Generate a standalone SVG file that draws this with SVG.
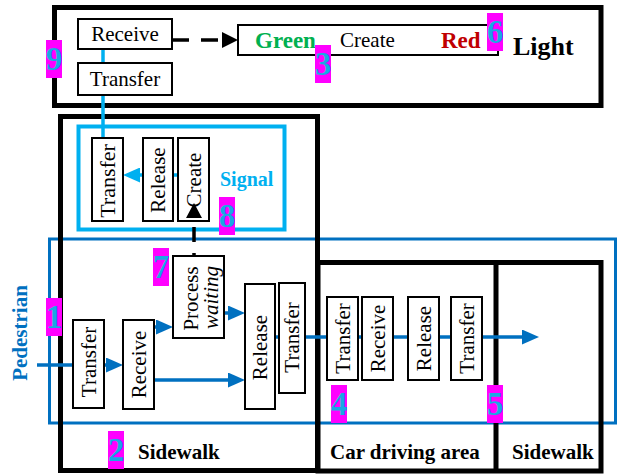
<svg xmlns="http://www.w3.org/2000/svg" width="621" height="474" viewBox="0 0 621 474">
<style>
.area{fill:none;stroke:#000;stroke-width:5}
.box{fill:#fff;stroke:#000;stroke-width:2}
text{font-family:'Liberation Serif','Times New Roman',serif}
.t{font-size:21px;fill:#000}
.b{font-weight:bold;font-size:21px;fill:#000}
.num rect{fill:#FF00FF}
.num text{font-weight:bold;font-size:33px;fill:#1AA7E3;text-anchor:middle}
.pf{fill:none;stroke:#0070C0;stroke-width:3.5}
.sf{fill:none;stroke:#00B0F0;stroke-width:3.5}
</style>
<defs>
<marker id="ab" markerUnits="userSpaceOnUse" markerWidth="17" markerHeight="15" refX="9" refY="7.5" orient="auto"><path d="M0,0 L17,7.5 L0,15 z" fill="#0070C0"/></marker>
<marker id="as" markerUnits="userSpaceOnUse" markerWidth="17" markerHeight="15" refX="9" refY="7.5" orient="auto"><path d="M0,0 L17,7.5 L0,15 z" fill="#00B0F0"/></marker>
<marker id="ak" markerUnits="userSpaceOnUse" markerWidth="16" markerHeight="16" refX="8" refY="8" orient="auto"><path d="M0,0 L16,8 L0,16 z" fill="#000"/></marker>
</defs>
<rect width="621" height="474" fill="#fff"/>

<g id="pedestrian-area">
<rect x="49.5" y="239" width="566" height="184" fill="none" stroke="#0070C0" stroke-width="3"/>
<text class="b" transform="translate(20,333) rotate(-90)" x="0" y="7" text-anchor="middle" style="fill:#0070C0">Pedestrian</text>
</g>
<g id="light-area">
<rect class="area" x="54.5" y="7.5" width="546.5" height="98"/>
<text class="b" x="513" y="55" style="font-size:26px">Light</text>
</g>
<g id="sidewalk-left">
<rect class="area" x="60.5" y="116.5" width="257" height="354"/>
<text class="b" x="138" y="459">Sidewalk</text>
</g>
<g id="car-area">
<rect class="area" x="318" y="262.5" width="283" height="208.5"/>
<line x1="496" y1="262.5" x2="496" y2="471" stroke="#000" stroke-width="5"/>
<text class="b" x="330" y="459">Car driving area</text>
<text class="b" x="512" y="459">Sidewalk</text>
</g>
<g id="signal-area">
<rect x="78.5" y="126.5" width="206" height="103" fill="none" stroke="#00B0F0" stroke-width="4"/>
<text class="b" x="220" y="186" style="fill:#00B0F0;font-size:20px">Signal</text>
</g>

<g id="connectors">
<line class="sf" x1="103" y1="49" x2="103" y2="138"/>
<line class="sf" x1="178" y1="175" x2="131" y2="175" marker-end="url(#as)"/>
<line x1="172" y1="40" x2="230" y2="40" stroke="#000" stroke-width="3.5" stroke-dasharray="17 12" marker-end="url(#ak)"/>
<line x1="194" y1="268" x2="194" y2="211" stroke="#000" stroke-width="3.5" stroke-dasharray="15 11" marker-end="url(#ak)"/>
<line class="pf" x1="37" y1="365" x2="115" y2="365" marker-end="url(#ab)"/>
<line class="pf" x1="154" y1="327" x2="165" y2="327" marker-end="url(#ab)"/>
<line class="pf" x1="154" y1="380" x2="237" y2="380" marker-end="url(#ab)"/>
<line class="pf" x1="224" y1="313" x2="237" y2="313" marker-end="url(#ab)"/>
<line class="pf" x1="270" y1="337" x2="531" y2="337" marker-end="url(#ab)"/>
</g>

<g id="light-receive"><rect class="box" x="78" y="19" width="94" height="30"/><text class="t" x="125" y="41" text-anchor="middle">Receive</text></g>
<g id="light-transfer"><rect class="box" x="78" y="63" width="94" height="32"/><text class="t" x="125" y="86" text-anchor="middle">Transfer</text></g>
<g id="light-create"><rect class="box" x="238" y="25" width="260" height="30"/>
<text class="b" x="255" y="48" style="fill:#00B050;font-size:23px">Green</text>
<text class="t" x="340" y="47">Create</text>
<text class="b" x="441" y="48" style="fill:#C00000;font-size:23px">Red</text></g>

<g id="signal-transfer"><rect class="box" x="92" y="138" width="31" height="83"/><text class="t" transform="translate(107.5,181) rotate(-90)" y="7" text-anchor="middle" style="font-size:22px">Transfer</text></g>
<g id="signal-release"><rect class="box" x="143" y="138" width="30" height="83"/><text class="t" transform="translate(158,180) rotate(-90)" y="7" text-anchor="middle">Release</text></g>
<g id="signal-create"><rect class="box" x="178" y="138" width="31" height="83"/><text class="t" transform="translate(193.5,180) rotate(-90)" y="7" text-anchor="middle">Create</text>
<path d="M194,203 L186,218 L202,218 z" fill="#000"/></g>

<g id="ped-transfer"><rect class="box" x="73" y="320" width="31" height="88"/><text class="t" transform="translate(88.5,362) rotate(-90)" y="7" text-anchor="middle">Transfer</text></g>
<g id="ped-receive"><rect class="box" x="123" y="320" width="31" height="89"/><text class="t" transform="translate(138.5,364.5) rotate(-90)" y="7" text-anchor="middle">Receive</text></g>
<g id="ped-process"><rect class="box" x="173" y="256" width="51" height="82"/>
<text class="t" transform="translate(198.5,298.5) rotate(-90)" y="-1" text-anchor="middle">Process</text>
<text class="t" transform="translate(198.5,297.5) rotate(-90)" y="19.5" text-anchor="middle" style="font-style:italic">waiting</text></g>
<g id="ped-release"><rect class="box" x="245" y="284" width="30" height="125"/><text class="t" transform="translate(260,347.5) rotate(-90)" y="7" text-anchor="middle">Release</text></g>
<g id="ped-transfer2"><rect class="box" x="279" y="283" width="26" height="110"/><text class="t" transform="translate(292,337.5) rotate(-90)" y="7" text-anchor="middle">Transfer</text></g>

<g id="car-transfer"><rect class="box" x="327" y="297" width="31" height="83"/><text class="t" transform="translate(342.5,338.5) rotate(-90)" y="7" text-anchor="middle">Transfer</text></g>
<g id="car-receive"><rect class="box" x="362" y="297" width="31" height="83"/><text class="t" transform="translate(377.5,338.5) rotate(-90)" y="7" text-anchor="middle">Receive</text></g>
<g id="car-release"><rect class="box" x="408" y="297" width="31" height="83"/><text class="t" transform="translate(423.5,338.5) rotate(-90)" y="7" text-anchor="middle">Release</text></g>
<g id="car-transfer2"><rect class="box" x="451" y="297" width="31" height="83"/><text class="t" transform="translate(466.5,338.5) rotate(-90)" y="7" text-anchor="middle">Transfer</text></g>

<g id="labels" class="num">
<g id="n9"><rect x="46" y="40" width="16" height="38"/><text x="54" y="70">9</text></g>
<g id="n3"><rect x="315" y="45" width="16" height="38"/><text x="323" y="75">3</text></g>
<g id="n6"><rect x="487" y="13" width="16" height="38"/><text x="495" y="43">6</text></g>
<g id="n8"><rect x="219" y="197" width="16" height="38"/><text x="227" y="227">8</text></g>
<g id="n7"><rect x="153" y="248" width="16" height="38"/><text x="161" y="278">7</text></g>
<g id="n1"><rect x="46" y="298" width="16" height="38"/><text x="54" y="328">1</text></g>
<g id="n2"><rect x="108" y="431" width="16" height="38"/><text x="116" y="461">2</text></g>
<g id="n4"><rect x="331" y="385" width="16" height="38"/><text x="339" y="415">4</text></g>
<g id="n5"><rect x="487" y="385" width="16" height="38"/><text x="495" y="415">5</text></g>
</g>
</svg>
